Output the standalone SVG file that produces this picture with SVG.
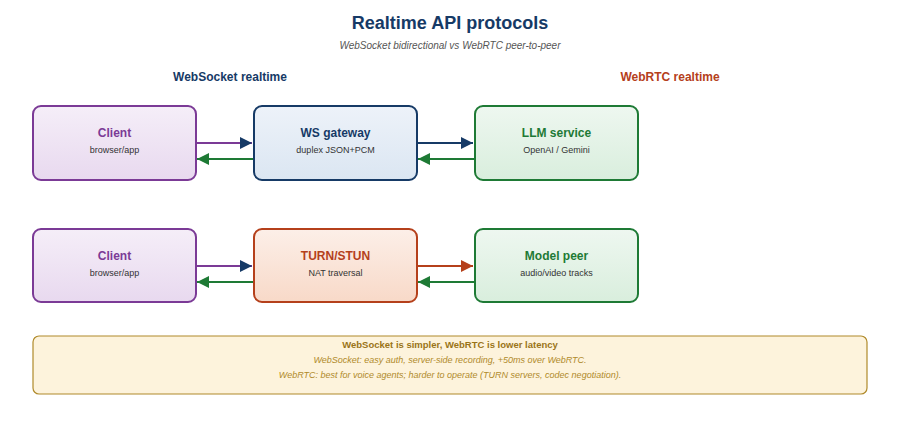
<svg xmlns="http://www.w3.org/2000/svg" width="900" height="442" viewBox="0 0 900 442">
<defs>
<linearGradient id="gp" x1="0" y1="0" x2="0" y2="1"><stop offset="0" stop-color="#f5eef8"/><stop offset="1" stop-color="#e8d9ef"/></linearGradient>
<linearGradient id="gb" x1="0" y1="0" x2="0" y2="1"><stop offset="0" stop-color="#edf2f9"/><stop offset="1" stop-color="#dbe6f2"/></linearGradient>
<linearGradient id="gg" x1="0" y1="0" x2="0" y2="1"><stop offset="0" stop-color="#eef7f0"/><stop offset="1" stop-color="#d9eedd"/></linearGradient>
<linearGradient id="go" x1="0" y1="0" x2="0" y2="1"><stop offset="0" stop-color="#fcefe8"/><stop offset="1" stop-color="#f8d9c8"/></linearGradient>
<marker id="mb" viewBox="0 0 10 10" refX="10" refY="5" markerWidth="6" markerHeight="6" orient="auto"><path d="M0,0L10,5L0,10z" fill="#163a66"/></marker>
<marker id="mg" viewBox="0 0 10 10" refX="10" refY="5" markerWidth="6" markerHeight="6" orient="auto"><path d="M0,0L10,5L0,10z" fill="#1e7a35"/></marker>
<marker id="mo" viewBox="0 0 10 10" refX="10" refY="5" markerWidth="6" markerHeight="6" orient="auto"><path d="M0,0L10,5L0,10z" fill="#b5401b"/></marker>
</defs>
<style>
text{font-family:"Liberation Sans",Arial,sans-serif;text-anchor:middle}
.t{font-size:12px;font-weight:bold}
.s{font-size:9px;fill:#333}
.box{stroke-width:2}
</style>
<rect width="900" height="442" fill="#fff"/>
<text x="450" y="29" font-size="18" font-weight="bold" fill="#163a66">Realtime API protocols</text>
<text x="450" y="49" font-size="10" font-style="italic" fill="#555">WebSocket bidirectional vs WebRTC peer-to-peer</text>
<text x="230" y="81" font-size="12" font-weight="bold" fill="#163a66">WebSocket realtime</text>
<text x="670" y="81" font-size="12" font-weight="bold" fill="#b5401b">WebRTC realtime</text>
<g id="connectors" stroke-width="2" fill="none">
<line x1="196" y1="143" x2="252" y2="143" stroke="#7b3a96" marker-end="url(#mb)"/>
<line x1="253" y1="159" x2="197" y2="159" stroke="#1e7a35" marker-end="url(#mg)"/>
<line x1="417" y1="143" x2="473" y2="143" stroke="#163a66" marker-end="url(#mb)"/>
<line x1="474" y1="159" x2="418" y2="159" stroke="#1e7a35" marker-end="url(#mg)"/>
<line x1="196" y1="266" x2="252" y2="266" stroke="#7b3a96" marker-end="url(#mb)"/>
<line x1="253" y1="282" x2="197" y2="282" stroke="#1e7a35" marker-end="url(#mg)"/>
<line x1="417" y1="266" x2="473" y2="266" stroke="#b5401b" marker-end="url(#mo)"/>
<line x1="474" y1="282" x2="418" y2="282" stroke="#1e7a35" marker-end="url(#mg)"/>
</g>
<g id="client1"><rect class="box" x="33" y="106" width="163" height="74" rx="8" fill="url(#gp)" stroke="#7b3a96"/><text class="t" x="114.5" y="137" fill="#7b3a96">Client</text><text class="s" x="114.5" y="153">browser/app</text></g>
<g id="wsgw"><rect class="box" x="254" y="106" width="163" height="74" rx="8" fill="url(#gb)" stroke="#163a66"/><text class="t" x="335.5" y="137" fill="#163a66">WS gateway</text><text class="s" x="335.5" y="153">duplex JSON+PCM</text></g>
<g id="llm"><rect class="box" x="475" y="106" width="163" height="74" rx="8" fill="url(#gg)" stroke="#1e7a35"/><text class="t" x="556.5" y="137" fill="#1e7a35">LLM service</text><text class="s" x="556.5" y="153">OpenAI / Gemini</text></g>
<g id="client2"><rect class="box" x="33" y="229" width="163" height="73" rx="8" fill="url(#gp)" stroke="#7b3a96"/><text class="t" x="114.5" y="260" fill="#7b3a96">Client</text><text class="s" x="114.5" y="276">browser/app</text></g>
<g id="turn"><rect class="box" x="254" y="229" width="163" height="73" rx="8" fill="url(#go)" stroke="#b5401b"/><text class="t" x="335.5" y="260" fill="#b5401b">TURN/STUN</text><text class="s" x="335.5" y="276">NAT traversal</text></g>
<g id="peer"><rect class="box" x="475" y="229" width="163" height="73" rx="8" fill="url(#gg)" stroke="#1e7a35"/><text class="t" x="556.5" y="260" fill="#1e7a35">Model peer</text><text class="s" x="556.5" y="276">audio/video tracks</text></g>
<g id="note"><rect x="33" y="336" width="834" height="58" rx="6" fill="#fdf3dc" stroke="#b08a2a" stroke-width="1.2"/>
<text x="450" y="348" font-size="9.5" font-weight="bold" fill="#9a7418">WebSocket is simpler, WebRTC is lower latency</text>
<text x="450" y="363" font-size="9" font-style="italic" fill="#b08a2a">WebSocket: easy auth, server-side recording, +50ms over WebRTC.</text>
<text x="450" y="378" font-size="9" font-style="italic" fill="#b08a2a">WebRTC: best for voice agents; harder to operate (TURN servers, codec negotiation).</text></g>
</svg>
